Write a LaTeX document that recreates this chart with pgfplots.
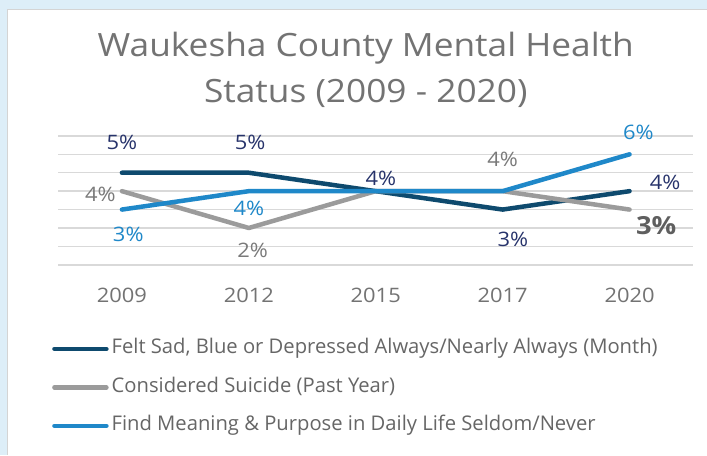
\documentclass[border=0pt]{standalone}
\usepackage{fontspec}
\setmainfont{Open Sans}[FakeStretch=1.1]
\newfontfamily\legfont{Open Sans}
\usepackage{pgfplots}
\pgfplotsset{compat=1.18}

\definecolor{bgblue}{HTML}{DDEEF8}
\definecolor{panelgray}{HTML}{D4D4D4}
\definecolor{titlegray}{HTML}{737373}
\definecolor{gridgray}{HTML}{D9D9D9}
\definecolor{navyline}{HTML}{0E4A6E}
\definecolor{grayline}{HTML}{9B9B9B}
\definecolor{blueline}{HTML}{1F88C9}
\definecolor{navylab}{HTML}{27336B}
\definecolor{graylab}{HTML}{7A7A7A}
\definecolor{darkgraylab}{HTML}{5F5F5F}
\definecolor{legtext}{HTML}{666666}

\newcommand{\lab}{\fontsize{20}{24}\selectfont}

\begin{document}
\begin{tikzpicture}
\fill[bgblue] (0bp,0bp) rectangle (707bp,455bp);
\fill[white] (8bp,0bp) rectangle (707bp,445bp);
\draw[panelgray, line width=1bp] (8bp,0bp) -- (8bp,445bp) -- (707bp,445bp);
\useasboundingbox (0bp,0bp) rectangle (707bp,455bp);

% title, two lines
\node[font=\fontsize{32.2}{36}\selectfont, text=titlegray, anchor=base] at (366bp,398bp) {Waukesha County Mental Health};
\node[font=\fontsize{32.2}{36}\selectfont, text=titlegray, anchor=base] at (366bp,352bp) {Status (2009 - 2020)};

\begin{axis}[
  at={(58.5bp,190bp)}, anchor=south west,
  scale only axis, width=635bp, height=129bp,
  xmin=-0.5, xmax=4.5, ymin=0, ymax=7,
  xtick={0,...,4},
  xticklabels={2009,2012,2015,2017,2020},
  xticklabel style={font=\lab, text=titlegray, anchor=base, yshift=-38bp},
  ytick={0,...,7}, yticklabels={},
  ymajorgrids, grid style={gridgray, line width=1.5bp},
  axis line style={draw=none},
  major tick length=0pt,
  clip=false,
  legend style={at={(-0.0102,-0.581)}, anchor=north west, draw=none, fill=none,
    inner sep=0pt, font=\legfont\fontsize{20.3}{24}\selectfont, text=legtext, row sep=20.5bp,
    nodes={inner sep=0pt, text height=14bp, text depth=4bp}},
  legend cell align=left,
  legend image code/.code={\draw[#1, line cap=round] (2bp,0bp) -- (54bp,0bp); \path (57bp,0bp);},
  every axis plot/.append style={line width=4.5bp, line cap=round, line join=round},
]
\addplot[navyline] coordinates {(0,5) (1,5) (2,4) (3,3) (4,4)};
\addplot[grayline] coordinates {(0,4) (1,2) (2,4) (3,4) (4,3)};
\addplot[blueline] coordinates {(0,3) (1,4) (2,4) (3,4) (4,6)};
\legend{{Felt Sad, Blue or Depressed Always/Nearly Always (Month)},
        {Considered Suicide (Past Year)},
        {Find Meaning \& Purpose in Daily Life Seldom/Never}}

% data labels
\node[font=\lab, text=navylab] at (axis cs:0,6.67) {5\%};
\node[font=\lab, text=navylab] at (axis cs:1.01,6.67) {5\%};
\node[font=\lab, text=navylab] at (axis cs:2.04,4.72) {4\%};
\node[font=\lab, text=navylab] at (axis cs:3.08,1.36) {3\%};
\node[font=\lab, text=navylab] at (axis cs:4.28,4.45) {4\%};
\node[font=\lab, text=graylab] at (axis cs:-0.17,3.85) {4\%};
\node[font=\lab, text=graylab] at (axis cs:1.03,0.81) {2\%};
\node[font=\lab, text=graylab] at (axis cs:3.0,5.7) {4\%};
\node[font=\fontsize{25}{30}\selectfont\bfseries, text=darkgraylab] at (axis cs:4.21,2.12) {3\%};
\node[font=\lab, text=blueline] at (axis cs:0.05,1.63) {3\%};
\node[font=\lab, text=blueline] at (axis cs:1.0,3.04) {4\%};
\node[font=\lab, text=blueline] at (axis cs:4.07,7.2) {6\%};
\end{axis}
\end{tikzpicture}
\end{document}
